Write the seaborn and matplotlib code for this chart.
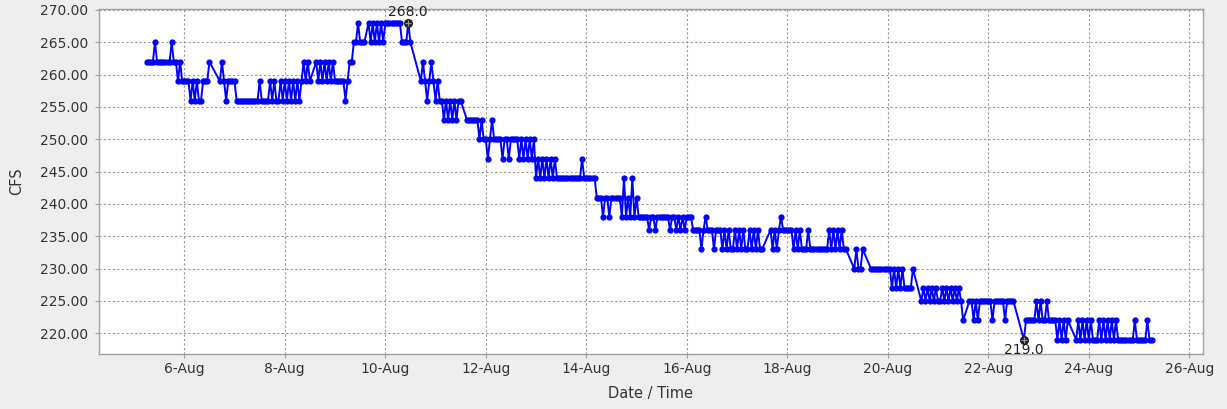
import numpy as np
import pandas as pd
import matplotlib
matplotlib.use("Agg")
import matplotlib.pyplot as plt
import matplotlib.dates as mdates
from matplotlib.ticker import FixedLocator, FuncFormatter
import seaborn as sns

# ---------------- data (hourly CFS readings, None = missing hour) ----------------
start_time = "2024-08-05 06:00"
cfs_part1 = [262, 262, 262, 262, 265, 262, 262, 262, 262, 262, 262, 262, 265, 262, 262,
             259, 262, 259, 259, 259, 259,
             256, 259, 256, 259, 256, 256, 259, 259, 259,
             262, None, None, None, None, 259, 262, 259,
             256, 259, 259, 259, 259,
             256, 256, 256, 256, 256, 256, 256, 256, 256, 256, 256, 259, 256, 256, 256, 256,
             259, 256, 259, 256, 256, 259, 256, 259, 256, 259, 256, 259, 256, 259, 256, 259,
             262, 259, 262, 259, None, None, 262,
             259, 262, 259, 262, 259, 262, 259, 262, 259,
             259, 259, 259, 259, 256, 259,
             262, 262, 265, 265, 268, 265, 265, 265, None, 268,
             265, 268, 265, 268, 265, 268, 265,
             268, 268, 268, 268, 268, 268, 268, 268,
             265, 265, 265, 268, 265,
             None, None, None, None]
cfs_part2 = [259, 262, 259, 256, 259, 262, 259, 256, 259,
             256, 256, 253, 256, 253, 256, 253, 256, 253, 256, 256,
             None, None, 253, 253, 253, 253, 253, 253,
             250, 253, 250, 250, 247, 250, 253, 250, 250, 250, 250, 247, 250, 250, 247, 250, 250, 250, 250,
             247, 250, 247, 250, 247, 250, 247, 250,
             244, 247, 244, 247, 244, 247, 244, 247, 244, 247, 244, 244,
             244, 244, 244, 244, 244, 244, 244, 244, 244, 244, 247, 244, 244, 244, 244, 244, 244,
             241, 241, 241, 238, 241, 241, 238, 241, 241, 241, 241, 241,
             238, 244, 238, 241, 238, 244, 238, 241, 238]
cfs_part3 = [238, 238, 238, 238, 236, 238, 238, 236, 238, 238, 238, 238, 238,
             238, 236, 238, 238, 236, 238, 236, 238, 236, 238, 238, 238,
             236, 236, 236, 236, 233, 236, 238, 236, 236, 236, 233, 236, 236, 236,
             233, 236, 233, 236, 233, 233, 236, 233, 236, 233, 236, 233, 233, 236, 233, 236, 233, 236, 233, 233,
             None, None, None,
             236, 233, 236, 233, 236, 238, 236, 236, 236, 236, 236, 233, 236, 233, 236, 233,
             233, 233, 236, 233, 233, 233, 233, 233,
             233, 233, 233, 233, 236, 233, 236, 233, 236, 233, 236, 233, 233,
             None, None, None, 230, 233, 230, 230, 233, None, None, None,
             230, 230, 230, 230, 230, 230, 230, 230, 230, 230,
             227, 230, 227, 230, 227, 230, 227,
             227, 227, 227, 230, None, None, None]
cfs_part4 = [225, 227, 225, 227, 225, 227, 225, 227, 225, 225,
             227, 225, 227, 225, 227, 225, 227, 225, 227, 225,
             222, None, None,
             225, 225, 222, 225, 222, 225, 225, 225, 225, 225, 225, 222, 225, 225, 225, 225, 225, 222,
             225, 225, 225, 225,
             None, None, None, None, 219,
             222, 222, 222, 222, 222, 225, 222, 225, 222, 222, 225, 222, 222, 222, 222,
             219, 222, 219, 222, 219, 222,
             None, None, None,
             219, 222, 219, 222, 219, 222, 219, 222, 219, 219, 219,
             222, 219, 222, 219, 222, 219, 222, 219, 222, 219,
             219, 219, 219, 219, 219, 219,
             219, 222, 219, 219, 219, 219, 219, 222, 219, 219]

y_ticks = [220, 225, 230, 235, 240, 245, 250, 255, 260, 265, 270]
x_tick_days = ["2024-08-06", "2024-08-08", "2024-08-10", "2024-08-12", "2024-08-14", "2024-08-16",
               "2024-08-18", "2024-08-20", "2024-08-22", "2024-08-24", "2024-08-26"]

# ---------------- build frame ----------------
cfs = cfs_part1 + cfs_part2 + cfs_part3 + cfs_part4
times = pd.date_range(start_time, periods=len(cfs), freq="h")
df = pd.DataFrame({"time": times, "cfs": pd.array(cfs, dtype="Float64")})
df = df.dropna().reset_index(drop=True)
df["cfs"] = df["cfs"].astype(float)

# ---------------- figure ----------------
plt.rcParams["font.family"] = ["DejaVu Sans"]
fig = plt.figure(figsize=(12.27, 4.09), dpi=100, facecolor="#eeeeee")
ax = fig.add_axes([99 / 1227, 1 - 354 / 409, (1203 - 99) / 1227, (354 - 9) / 409])
ax.set_facecolor("white")

sns.lineplot(data=df, x="time", y="cfs", ax=ax, color="#0000ff", linewidth=1.4,
             marker="o", markersize=4.5, markeredgewidth=0, estimator=None, sort=True)

# max / min annotation
imax = int(np.where(df["cfs"].values == df["cfs"].max())[0][-1])
imin = int(np.where(df["cfs"].values == df["cfs"].min())[0][0])
for idx, dy, va in [(imax, 3, "bottom"), (imin, -2, "top")]:
    t, v = df["time"].iloc[idx], df["cfs"].iloc[idx]
    ax.plot([t], [v], "o", color="#222222", ms=5.5, zorder=5)
    ax.plot([t], [v], "+", color="#999999", ms=5, mew=0.8, zorder=6)
    ax.annotate(f"{v:.1f}", (t, v), xytext=(0, dy), textcoords="offset points",
                ha="center", va=va, fontsize=10, color="#222222", zorder=7)

# axes limits
d6 = mdates.date2num(pd.Timestamp("2024-08-06"))
ax.set_xlim(d6 - 1.697, d6 + 20 + 0.273)
ax.set_ylim(216.8, 270.15)

ax.yaxis.set_major_locator(FixedLocator(y_ticks))
ax.yaxis.set_major_formatter(FuncFormatter(lambda v, p: f"{v:.2f}"))
ax.xaxis.set_major_locator(FixedLocator([mdates.date2num(pd.Timestamp(d)) for d in x_tick_days]))
ax.xaxis.set_major_formatter(FuncFormatter(
    lambda v, p: f"{mdates.num2date(v).day}-{mdates.num2date(v).strftime('%b')}"))

ax.grid(True, color="#9a9a9a", linestyle=(0, (2, 2)), linewidth=0.8)
ax.set_axisbelow(True)
for s in ax.spines.values():
    s.set_color("#a0a0a0")
    s.set_linewidth(1.0)
ax.tick_params(axis="both", length=3, width=0.8, color="#a0a0a0", labelsize=10,
               labelcolor="#333333")
ax.tick_params(axis="y", pad=5)
ax.tick_params(axis="x", pad=3)

ax.set_xlabel("Date / Time", fontsize=10.5, color="#333333")
ax.set_ylabel("CFS", fontsize=10.5, color="#333333")
ax.xaxis.set_label_coords(0.5, -0.093)
ax.yaxis.set_label_coords(-0.068, 0.5)

fig.savefig("out.png", dpi=100, facecolor=fig.get_facecolor())
